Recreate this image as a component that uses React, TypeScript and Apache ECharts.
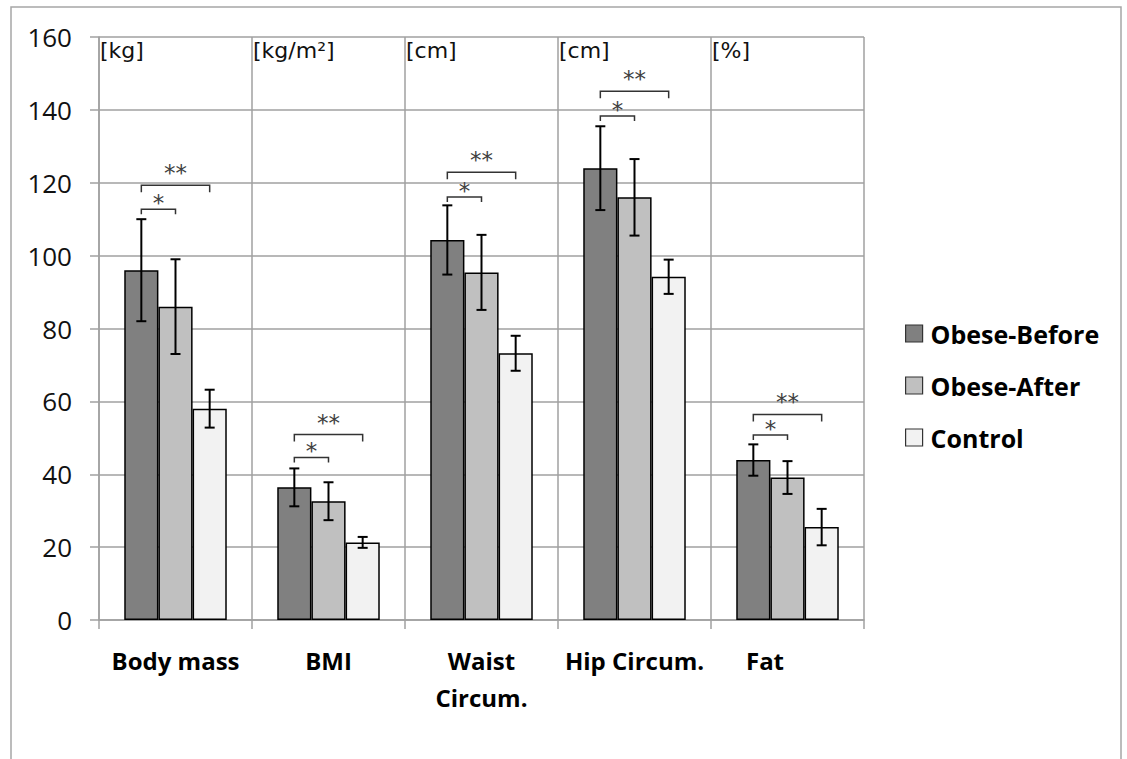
import React, { useEffect, useRef } from "react";
import * as echarts from "echarts";

const categories = ["Body mass", "BMI", "Waist\nCircum.", "Hip Circum.", "Fat"];
const units = ["[kg]", "[kg/m²]", "[cm]", "[cm]", "[%]"];
const seriesNames = ["Obese-Before", "Obese-After", "Control"];
const obeseBefore = [96, 36.4, 104.3, 124, 43.9];
const obeseBeforeSD = [14, 5.2, 9.5, 11.5, 4.3];
const obeseAfter = [86, 32.6, 95.4, 116, 39.1];
const obeseAfterSD = [13, 5.2, 10.3, 10.5, 4.5];
const control = [58, 21.3, 73.2, 94.2, 25.5];
const controlSD = [5.2, 1.5, 4.8, 4.7, 5];
// significance bracket levels: "*" Before vs After, "**" Before vs Control
const sigOneLevel = [112.7, 44.6, 116.1, 138.3, 50.8];
const sigTwoLevel = [119.3, 50.9, 122.9, 145.1, 56.4];
const yTicks = { min: 0, max: 160, interval: 20 };

const colors = ["#808080", "#c0c0c0", "#f2f2f2"];
const GRID_COLOR = "#a0a0a0";
const GROUP_FRACTION = 0.67;

function errSeries(idx: number, vals: number[], sds: number[]) {
  return {
    type: "custom",
    z: 5,
    silent: true,
    clip: false,
    data: vals.map((v, i) => [i, v - sds[i], v + sds[i]]),
    encode: { x: 0, y: [1, 2] },
    renderItem: (params: any, api: any) => {
      const c = api.value(0);
      const lo = api.coord([c, api.value(1)]);
      const hi = api.coord([c, api.value(2)]);
      const bw = (api.size([1, 0])[0] * GROUP_FRACTION) / 3;
      const x = lo[0] + (idx - 1) * bw;
      const cap = 5;
      const st = { stroke: "#000", lineWidth: 2 };
      return {
        type: "group",
        children: [
          { type: "line", shape: { x1: x, y1: lo[1], x2: x, y2: hi[1] }, style: st },
          { type: "line", shape: { x1: x - cap, y1: lo[1], x2: x + cap, y2: lo[1] }, style: st },
          { type: "line", shape: { x1: x - cap, y1: hi[1], x2: x + cap, y2: hi[1] }, style: st },
        ],
      };
    },
  };
}

function sigSeries(levels: number[], toIdx: number, stars: string, tick: number, textOffset: number) {
  return {
    type: "custom",
    z: 5,
    silent: true,
    clip: false,
    data: levels.map((v, i) => [i, v]),
    encode: { x: 0, y: 1 },
    renderItem: (params: any, api: any) => {
      const c = api.value(0);
      const p = api.coord([c, api.value(1)]);
      const bw = (api.size([1, 0])[0] * GROUP_FRACTION) / 3;
      const x1 = p[0] - bw;
      const x2 = p[0] + (toIdx - 1) * bw;
      const y = p[1];
      return {
        type: "group",
        children: [
          {
            type: "polyline",
            shape: { points: [[x1, y + tick], [x1, y], [x2, y], [x2, y + tick]] },
            style: { stroke: "#333333", lineWidth: 1.5, fill: "none" },
          },
          {
            type: "text",
            style: {
              x: (x1 + x2) / 2,
              y: y - textOffset,
              text: stars,
              fill: "#404040",
              font: "23px 'DejaVu Sans'",
              align: "center",
              verticalAlign: "middle",
            },
          },
        ],
      };
    },
  };
}

const unitSeries = {
  type: "custom",
  z: 5,
  silent: true,
  clip: false,
  data: units.map((u, i) => [i, yTicks.max]),
  encode: { x: 0, y: 1 },
  renderItem: (params: any, api: any) => {
    const c = api.value(0);
    const p = api.coord([c, api.value(1)]);
    const band = api.size([1, 0])[0];
    return {
      type: "text",
      style: {
        x: p[0] - band / 2 + 1,
        y: p[1] + 2,
        text: units[params.dataIndex],
        fill: "#111",
        font: "22px 'DejaVu Sans'",
        align: "left",
        verticalAlign: "top",
      },
    };
  },
};

export default function App() {
  const ref = useRef<HTMLDivElement>(null);
  useEffect(() => {
    const chart = echarts.init(ref.current!, null, { renderer: "svg" });
    const barData = [obeseBefore, obeseAfter, control];
    const option: any = {
      animation: false,
      backgroundColor: "#fff",
      grid: { left: 99, right: 263, top: 37, bottom: 139, containLabel: false },
      legend: {
        orient: "vertical",
        left: 905,
        top: 321,
        padding: 0,
        icon: "rect",
        itemWidth: 17,
        itemHeight: 17,
        itemGap: 27,
        data: seriesNames,
        itemStyle: { borderColor: "#333", borderWidth: 1.2 },
        textStyle: {
          fontFamily: "'Open Sans'",
          fontWeight: "bold",
          fontSize: 25,
          lineHeight: 24,
          color: "#000",
          padding: [0, 0, 0, 3],
        },
      },
      graphic: [
        {
          type: "rect",
          shape: { x: 11, y: 7, width: 1110, height: 800 },
          style: { fill: "none", stroke: "#a6a6a6", lineWidth: 1.5 },
          silent: true,
        },
      ],
      xAxis: {
        type: "category",
        data: categories,
        boundaryGap: true,
        axisLine: { lineStyle: { color: GRID_COLOR, width: 1.5 } },
        axisTick: { show: true, length: 9, lineStyle: { color: GRID_COLOR, width: 1.5 } },
        splitLine: { show: true, interval: 0, lineStyle: { color: GRID_COLOR, width: 1.5 } },
        axisLabel: {
          interval: 0,
          margin: 22,
          color: "#000",
          fontFamily: "'Open Sans'",
          fontWeight: "bold",
          fontSize: 24,
          lineHeight: 37,
          formatter: (v: string) => (v === "Fat" ? "{fat|Fat}" : v),
          rich: {
            fat: {
              padding: [0, 45, 0, 0],
              color: "#000",
              fontFamily: "'Open Sans'",
              fontWeight: "bold",
              fontSize: 24,
              lineHeight: 37,
            },
          },
        },
      },
      yAxis: {
        type: "value",
        min: yTicks.min,
        max: yTicks.max,
        interval: yTicks.interval,
        axisLine: { show: true, lineStyle: { color: GRID_COLOR, width: 1.5 } },
        axisTick: { show: true, length: 9, lineStyle: { color: GRID_COLOR, width: 1.5 } },
        splitLine: { show: true, lineStyle: { color: GRID_COLOR, width: 1.5 } },
        axisLabel: {
          margin: 27,
          color: "#111",
          fontFamily: "'Open Sans'",
          fontSize: 26,
        },
      },
      series: [
        ...seriesNames.map((name, i) => ({
          name,
          type: "bar",
          data: barData[i],
          barGap: "0%",
          barCategoryGap: "33%",
          itemStyle: { color: colors[i], borderColor: "#000", borderWidth: 1.5 },
          z: 2,
        })),
        errSeries(0, obeseBefore, obeseBeforeSD),
        errSeries(1, obeseAfter, obeseAfterSD),
        errSeries(2, control, controlSD),
        sigSeries(sigOneLevel, 1, "*", 5, 6),
        sigSeries(sigTwoLevel, 2, "**", 7, 12),
        unitSeries,
      ],
    };
    chart.setOption(option);
    return () => chart.dispose();
  }, []);
  return (
    <div
      ref={ref}
      style={{ position: "fixed", left: 0, top: 0, width: 1127, height: 759, background: "#fff" }}
    />
  );
}
